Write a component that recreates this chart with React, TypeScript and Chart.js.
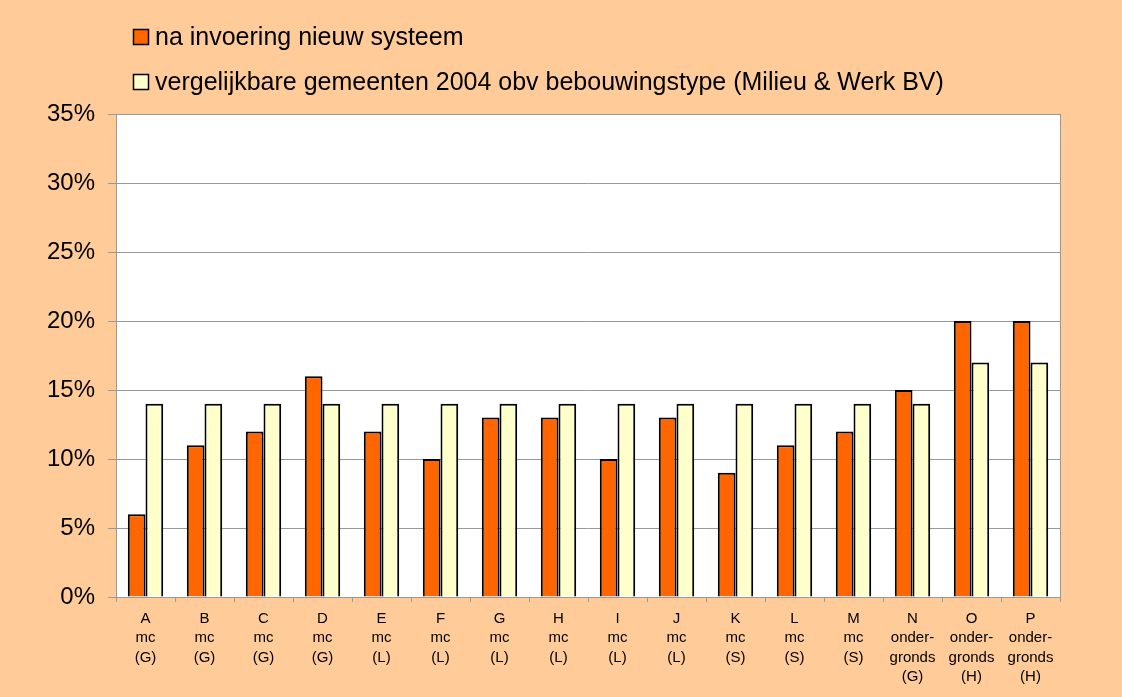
import React, { useEffect, useRef } from "react";
import { Chart, registerables } from "chart.js";

Chart.register(...registerables);

const categories: string[][] = [
  ["A", "mc", "(G)"],
  ["B", "mc", "(G)"],
  ["C", "mc", "(G)"],
  ["D", "mc", "(G)"],
  ["E", "mc", "(L)"],
  ["F", "mc", "(L)"],
  ["G", "mc", "(L)"],
  ["H", "mc", "(L)"],
  ["I", "mc", "(L)"],
  ["J", "mc", "(L)"],
  ["K", "mc", "(S)"],
  ["L", "mc", "(S)"],
  ["M", "mc", "(S)"],
  ["N", "onder-", "gronds", "(G)"],
  ["O", "onder-", "gronds", "(H)"],
  ["P", "onder-", "gronds", "(H)"],
];

const seriesNames = [
  "na invoering nieuw systeem",
  "vergelijkbare gemeenten 2004 obv bebouwingstype (Milieu & Werk BV)",
];

const nieuwSysteem = [6, 11, 12, 16, 12, 10, 13, 13, 10, 13, 9, 11, 12, 15, 20, 20];
const vergelijkbaar = [14, 14, 14, 14, 14, 14, 14, 14, 14, 14, 14, 14, 14, 14, 17, 17];

const yTicks = [0, 5, 10, 15, 20, 25, 30, 35];

const FONT = "'Liberation Sans', Arial, sans-serif";
const BG = "#FFCC99";
const ORANGE = "#FF6600";
const YELLOW = "#FFFFCC";
const GRID = "#999999";

export default function App() {
  const ref = useRef<HTMLCanvasElement>(null);

  useEffect(() => {
    document.body.style.margin = "0";
    document.body.style.background = BG;
    const canvas = ref.current!;

    const bgPlugin = {
      id: "bgPlugin",
      beforeDraw(chart: any) {
        const { ctx, chartArea } = chart;
        ctx.save();
        ctx.fillStyle = BG;
        ctx.fillRect(0, 0, chart.width, chart.height);
        ctx.fillStyle = "#FFFFFF";
        ctx.fillRect(chartArea.left, chartArea.top, chartArea.right - chartArea.left, chartArea.bottom - chartArea.top);
        ctx.restore();
      },
      beforeDatasetsDraw(chart: any) {
        const { ctx, chartArea } = chart;
        ctx.save();
        ctx.strokeStyle = GRID;
        ctx.lineWidth = 1;
        ctx.strokeRect(
          Math.round(chartArea.left) + 0.5,
          Math.round(chartArea.top) + 0.5,
          Math.round(chartArea.right - chartArea.left),
          Math.round(chartArea.bottom - chartArea.top)
        );
        ctx.restore();
      },
      afterDraw(chart: any) {
        const { ctx } = chart;
        const colors = [ORANGE, YELLOW];
        const ys = [37, 82];
        ctx.save();
        ctx.font = `25px ${FONT}`;
        ctx.textBaseline = "middle";
        ctx.textAlign = "left";
        seriesNames.forEach((name, i) => {
          const y = ys[i];
          ctx.fillStyle = colors[i];
          ctx.fillRect(133.5, y - 7.5, 15, 15);
          ctx.strokeStyle = "#000000";
          ctx.lineWidth = 1.5;
          ctx.strokeRect(133.5, y - 7.5, 15, 15);
          ctx.fillStyle = "#000000";
          ctx.fillText(name, 155, y + 1);
        });
        ctx.restore();
      },
    };

    const chart = new Chart(canvas, {
      type: "bar",
      data: {
        labels: categories,
        datasets: [
          {
            label: seriesNames[0],
            data: nieuwSysteem,
            backgroundColor: ORANGE,
            borderColor: "#000000",
            borderWidth: 2,
            categoryPercentage: 0.6,
            barPercentage: 1,
          },
          {
            label: seriesNames[1],
            data: vergelijkbaar,
            backgroundColor: YELLOW,
            borderColor: "#000000",
            borderWidth: 2,
            categoryPercentage: 0.6,
            barPercentage: 1,
          },
        ],
      },
      options: {
        animation: false,
        responsive: false,
        layout: { padding: { left: 0, top: 114, right: 62, bottom: 0 } },
        plugins: {
          legend: { display: false },
          tooltip: { enabled: false },
        },
        scales: {
          x: {
            offset: true,
            grid: {
              offset: true,
              drawOnChartArea: false,
              drawTicks: true,
              tickLength: 5,
              color: GRID,
            },
            border: { display: true, color: GRID },
            ticks: {
              autoSkip: false,
              maxRotation: 0,
              padding: 7,
              color: "#000000",
              font: { family: FONT, size: 15, lineHeight: 1.3 },
            },
            afterFit(scale: any) {
              scale.height = 100;
            },
          },
          y: {
            min: 0,
            max: 35,
            afterBuildTicks(scale: any) {
              scale.ticks = yTicks.map((v) => ({ value: v }));
            },
            grid: {
              color: GRID,
              tickLength: 8,
              drawTicks: true,
            },
            border: { display: true, color: GRID },
            ticks: {
              padding: 13,
              color: "#000000",
              font: { family: FONT, size: 24 },
              callback: (v: any) => `${v}%`,
            },
            afterFit(scale: any) {
              scale.width = 116;
            },
          },
        },
      },
      plugins: [bgPlugin],
    });

    return () => chart.destroy();
  }, []);

  return (
    <div style={{ width: 1122, height: 697, background: BG }}>
      <canvas ref={ref} width={1122} height={697} style={{ display: "block", width: 1122, height: 697 }} />
    </div>
  );
}
